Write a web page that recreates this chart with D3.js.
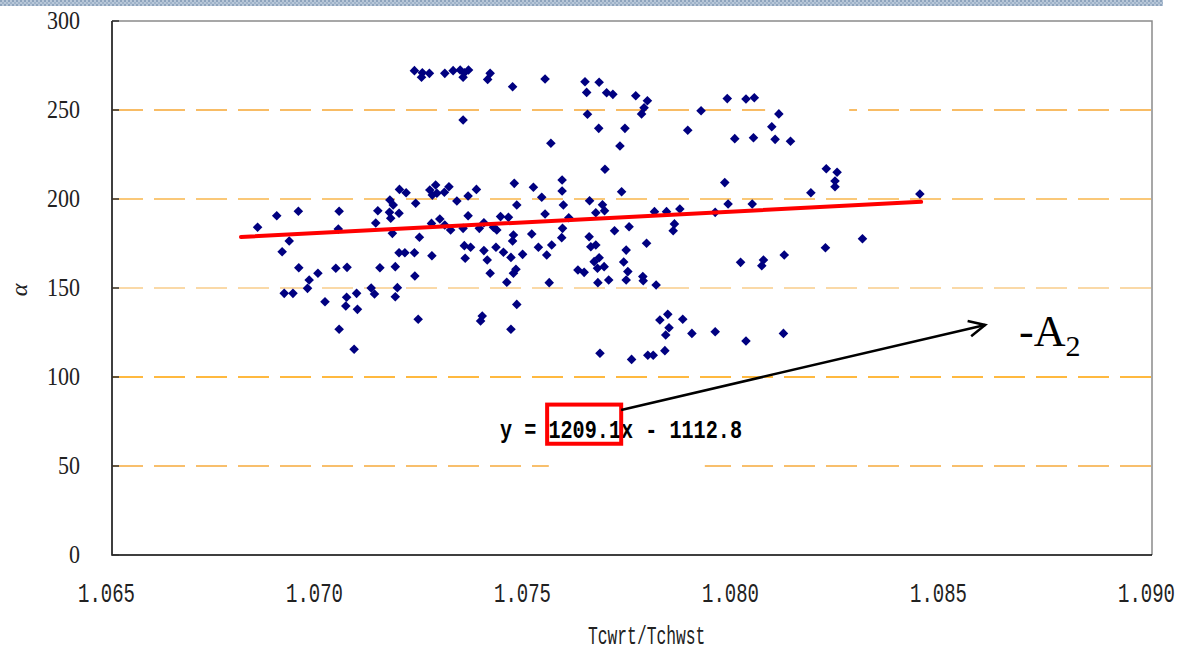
<!DOCTYPE html>
<html><head><meta charset="utf-8">
<script src="https://cdn.jsdelivr.net/npm/d3@7"></script>
<style>html,body{margin:0;padding:0;background:#fff;overflow:hidden}</style>
</head><body>
<svg id="chart" width="1184" height="653"></svg>
<script>
// ---- data ----
const xValues = [1.07227,1.07246,1.07244,1.07263,1.07300,1.07320,1.07337,1.07347,1.07344,1.07357,1.07409,1.07403,1.07463,1.07344,
1.06850,1.06896,1.06948,1.06926,1.06909,1.07046,1.07044,1.06949,1.06974,1.06970,1.06995,1.06914,1.06935,1.07012,1.07038,1.07065,
1.07064,1.07062,1.07088,1.07090,1.07046,1.07082,1.07123,1.07131,1.07144,1.07134,1.07139,1.07168,1.07176,1.07167,1.07170,1.07190,
1.07191,1.07207,1.07174,1.07190,1.07204,1.07227,1.07181,1.07186,1.07181,1.07228,1.07236,1.07230,1.07239,1.07264,1.07278,1.07270,
1.07281,1.07299,1.07310,1.07268,1.07288,1.07300,1.07314,1.07269,1.07329,1.07356,1.07376,1.07356,1.07344,1.07383,1.07394,1.07347,
1.07362,1.07349,1.07394,1.07402,1.07409,1.07390,1.07386,1.07417,1.07425,1.07423,1.07441,1.07459,1.07487,1.07434,1.07453,1.07467,
1.07473,1.07465,1.07463,1.07471,1.07465,1.07449,1.07473,1.07459,1.07513,1.07533,1.07541,1.07509,1.07525,1.07545,1.07551,1.07557,
1.07541,1.07637,1.07671,1.07641,1.07689,1.07704,1.07759,1.07787,1.07779,1.07773,1.07643,1.07670,1.07733,1.07721,1.07555,1.07685,
1.07916,1.07884,1.07979,1.08024,1.08044,1.08103,1.08086,1.07997,1.08042,1.08094,1.08131,1.07582,1.07582,1.07585,1.07598,1.07583,
1.07581,1.07648,1.07679,1.07663,1.07684,1.07725,1.07708,1.07743,1.07647,1.07651,1.07663,1.07736,1.07785,1.07671,1.07659,1.07667,
1.07683,1.07620,1.07635,1.07730,1.07740,1.07668,1.07694,1.07736,1.07776,1.07777,1.07808,1.07804,1.07833,1.07865,1.07852,1.07849,
1.07950,1.07981,1.07973,1.08039,1.08180,1.08011,1.08066,1.08062,1.08116,1.07817,1.07836,1.07839,1.07831,1.07872,1.07894,1.07950,
1.08024,1.08114,1.07673,1.07749,1.07788,1.07801,1.07829,1.08217,1.08243,1.08238,1.08238,1.08442,1.08215,1.08304];
const alphaValues = [272.1,270.9,268.4,270.6,270.6,272.1,272.5,270.9,268.4,272.5,270.6,267.2,263.1,244.4,
184.1,190.6,193.1,176.4,170.4,193.1,183.1,161.4,154.5,149.8,158.3,147.0,147.0,142.3,161.1,161.6,
144.8,139.9,147.0,138.0,126.8,115.6,150.0,146.6,161.4,186.5,193.4,199.4,196.6,192.5,189.2,192.0,
205.4,203.5,180.7,169.8,169.8,169.8,162.0,150.2,145.1,156.7,132.4,197.6,178.5,205.1,207.9,202.2,
203.2,203.8,206.9,186.3,188.8,185.4,182.6,168.1,198.9,201.7,205.4,190.6,183.5,183.5,186.7,173.8,
172.9,166.7,171.0,165.7,158.3,134.3,131.5,184.1,182.6,172.9,170.1,167.2,168.9,190.1,189.7,208.8,
196.6,179.8,176.4,160.5,158.3,153.2,140.8,126.8,206.6,201.0,191.6,180.3,172.9,168.5,153.0,174.2,
267.4,265.9,265.6,259.9,259.7,258.8,258.0,255.2,251.3,247.8,247.6,239.7,239.7,229.8,231.3,216.7,
249.6,238.6,256.4,256.2,256.9,247.8,240.6,233.9,234.4,233.5,232.4,210.7,204.5,196.6,189.5,183.5,
178.3,199.0,196.8,192.3,193.4,204.1,182.2,184.4,178.8,173.2,174.2,171.3,175.1,167.0,164.8,161.1,
162.0,160.1,158.8,164.6,159.2,153.0,154.5,154.5,156.4,154.1,151.7,192.9,192.9,194.4,186.0,182.2,
192.5,197.2,209.2,197.2,203.5,164.4,165.7,162.5,168.5,132.0,135.2,127.7,123.6,132.4,124.5,125.4,
120.2,124.5,113.3,109.9,112.2,112.2,114.8,217.0,215.0,210.1,206.9,202.8,172.6,177.7];
const xTicks = [1.065, 1.070, 1.075, 1.080, 1.085, 1.090];
const xTickLabels = ["1.065", "1.070", "1.075", "1.080", "1.085", "1.090"];
const yTicks = [0, 50, 100, 150, 200, 250, 300];
const gridValues = [50, 100, 150, 200, 250];
const trendSlope = 1209.1, trendIntercept = -1112.8;
const trendRange = [1.0681, 1.08445];
const equationText = "y = 1209.1x - 1112.8";
const xTitle = "Tcwrt/Tchwst";
const yTitle = "α";

// ---- layout ----
const svg = d3.select("#chart");
const L = 112, R = 1152, T = 21, B = 555;
const x = d3.scaleLinear().domain([1.065, 1.090]).range([L, R]);
const y = d3.scaleLinear().domain([0, 300]).range([B, T]);

// top decorative band
const defs = svg.append("defs");
const pat = defs.append("pattern").attr("id", "band").attr("width", 4).attr("height", 4).attr("patternUnits", "userSpaceOnUse");
pat.append("rect").attr("width", 4).attr("height", 4).attr("fill", "#b8c7d8");
pat.append("rect").attr("width", 2).attr("height", 2).attr("fill", "#8ea4bd");
pat.append("rect").attr("x", 2).attr("y", 2).attr("width", 2).attr("height", 2).attr("fill", "#9fb3c9");
svg.append("rect").attr("x", 0).attr("y", 0).attr("width", 1163).attr("height", 6).attr("fill", "url(#band)");

// gridlines
const gridColor = {50: "#f6ab3c", 100: "#ffa200", 150: "#f5b350", 200: "#fac878", 250: "#f6a733"};
const gridWidth = {50: 1.3, 100: 1.3, 150: 1.1, 200: 2, 250: 1.3};
svg.append("g").selectAll("line").data(gridValues).join("line")
  .attr("x1", L).attr("x2", R).attr("y1", d => y(d)).attr("y2", d => y(d))
  .attr("stroke", d => gridColor[d]).attr("stroke-width", d => gridWidth[d]).attr("stroke-dasharray", "31,11");

// erased areas in original figure
svg.append("rect").attr("x", x(1.08070)).attr("y", y(265)).attr("width", x(1.08272) - x(1.08070)).attr("height", y(248.3) - y(265)).attr("fill", "#fff");
svg.append("rect").attr("x", x(1.07550)).attr("y", y(56)).attr("width", x(1.07925) - x(1.07550)).attr("height", y(44) - y(56)).attr("fill", "#fff");

// frame
svg.append("path").attr("d", `M${L},${T}H${R}V${B}`).attr("fill", "none").attr("stroke", "#8a8a8a").attr("stroke-width", 1.5);
svg.append("path").attr("d", `M${L},${T}V${B}H${R}`).attr("fill", "none").attr("stroke", "#000").attr("stroke-width", 1.5);
// inner ticks on y axis
svg.append("g").selectAll("line").data(yTicks).join("line")
  .attr("x1", L).attr("x2", L + 7).attr("y1", d => y(d)).attr("y2", d => y(d))
  .attr("stroke", "#333").attr("stroke-width", 1.5);

// y tick labels
svg.append("g").selectAll("text").data(yTicks).join("text")
  .attr("x", 80).attr("y", d => y(d) + 8)
  .attr("text-anchor", "end")
  .attr("font-family", "Liberation Serif, serif").attr("font-size", 25)
  .attr("textLength", d => String(d).length * 11).attr("lengthAdjust", "spacingAndGlyphs")
  .attr("fill", "#222").text(d => d);

// x tick labels (narrow, tall glyphs)
svg.append("g").selectAll("text").data(xTicks).join("text")
  .attr("transform", d => `translate(${x(d) - 34},602) scale(1,1.45)`)
  .attr("font-family", "Liberation Mono, monospace").attr("font-size", 19)
  .attr("fill", "#222").text((d, i) => xTickLabels[i]);

// axis titles
svg.append("text").attr("transform", "translate(588,644) scale(1,1.6)")
  .attr("font-family", "Liberation Mono, monospace").attr("font-size", 16.3)
  .attr("fill", "#222").text(xTitle);
svg.append("text").attr("transform", "translate(27,290) rotate(-90)")
  .attr("text-anchor", "middle").attr("font-family", "Liberation Serif, serif")
  .attr("font-style", "italic").attr("font-size", 24).attr("fill", "#222").text(yTitle);

// points
const pts = d3.range(xValues.length).map(i => ({x: xValues[i], a: alphaValues[i]}));
const sym = d3.symbol(d3.symbolSquare, 46);
svg.append("g").selectAll("path").data(pts).join("path")
  .attr("d", sym)
  .attr("transform", d => `translate(${x(d.x)},${y(d.a)}) rotate(45)`)
  .attr("fill", "#000080");

// trend line
svg.append("line")
  .attr("x1", x(trendRange[0])).attr("y1", y(trendSlope * trendRange[0] + trendIntercept))
  .attr("x2", x(trendRange[1])).attr("y2", y(trendSlope * trendRange[1] + trendIntercept))
  .attr("stroke", "#ff0000").attr("stroke-width", 4).attr("stroke-linecap", "round");

// equation
svg.append("text").attr("x", 500).attr("y", 438)
  .attr("font-family", "Liberation Mono, monospace").attr("font-weight", "bold").attr("font-size", 25)
  .attr("textLength", 242).attr("lengthAdjust", "spacingAndGlyphs")
  .attr("fill", "#000").text(equationText);

// highlight box around slope
svg.append("rect").attr("x", x(1.07546)).attr("y", y(84.5)).attr("width", x(1.07724) - x(1.07546)).attr("height", y(62.5) - y(84.5))
  .attr("fill", "none").attr("stroke", "#ff0000").attr("stroke-width", 4);

// arrow to -A2
const ax0 = x(1.07724), ay0 = y(81.5), ax1 = x(1.08599), ay1 = y(129.2);
svg.append("line").attr("x1", ax0).attr("y1", ay0).attr("x2", ax1).attr("y2", ay1).attr("stroke", "#000").attr("stroke-width", 2.5);
const ang = Math.atan2(ay1 - ay0, ax1 - ax0), hl = 18, ha = 0.45;
svg.append("path")
  .attr("d", `M${ax1 - hl * Math.cos(ang - ha)},${ay1 - hl * Math.sin(ang - ha)}L${ax1},${ay1}L${ax1 - hl * Math.cos(ang + ha)},${ay1 - hl * Math.sin(ang + ha)}`)
  .attr("fill", "none").attr("stroke", "#000").attr("stroke-width", 2.5);

const lab = svg.append("text").attr("x", 1019).attr("y", 346)
  .attr("font-family", "Liberation Serif, serif").attr("font-size", 44).attr("fill", "#000");
lab.append("tspan").text("-A");
lab.append("tspan").attr("font-size", 30).attr("dy", 10).text("2");
</script>
</body></html>
